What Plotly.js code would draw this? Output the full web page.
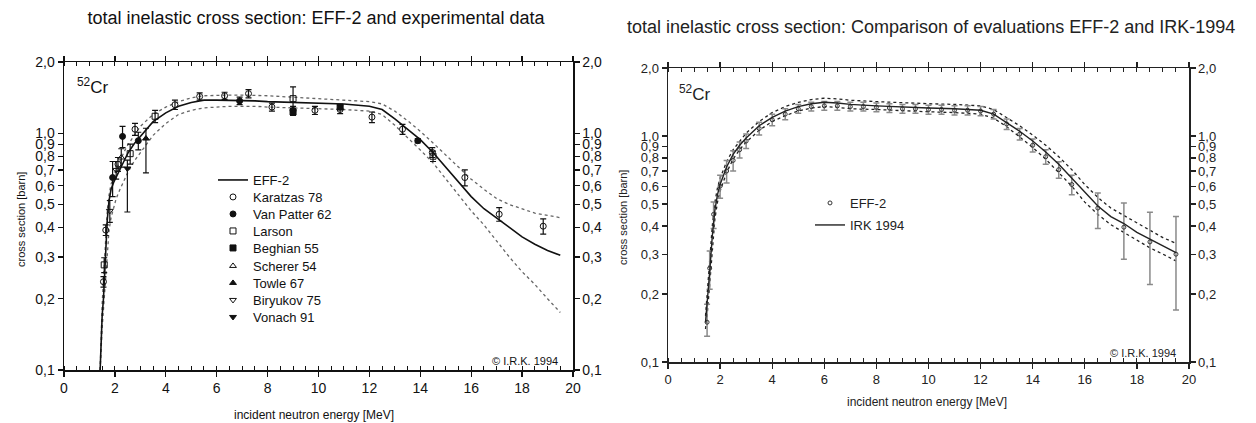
<!DOCTYPE html>
<html><head><meta charset="utf-8">
<script src="https://cdn.plot.ly/plotly-3.0.1.min.js"></script>
<style>html,body{margin:0;padding:0;background:#fff}#chart{width:1256px;height:423px}</style>
</head><body><div id="chart"></div>
<script>
// ---------- tick labels ----------
const yTickVals = [0.1, 0.2, 0.3, 0.4, 0.5, 0.6, 0.7, 0.8, 0.9, 1.0, 2.0];
const yTickText = ['0,1', '0,2', '0,3', '0,4', '0,5', '0,6', '0,7', '0,8', '0,9', '1,0', '2,0'];
const xTickVals = [0, 2, 4, 6, 8, 10, 12, 14, 16, 18, 20];

// ---------- left chart: EFF-2 evaluation and its band ----------
const effE   = [1.42, 1.46, 1.50, 1.55, 1.60, 1.65, 1.70, 1.77, 1.85, 1.95, 2.05, 2.2, 2.35, 2.5, 2.75, 3.0, 3.5, 4.0, 4.5, 5.0, 5.5, 6.0, 6.5, 7.0, 7.5, 8.0, 9.0, 10.0, 11.0, 12.0, 12.5, 13.0, 13.5, 14.0, 14.5, 15.0, 15.5, 16.0, 16.5, 17.0, 17.5, 18.0, 18.5, 19.0, 19.5];
const effS   = [0.10, 0.14, 0.17, 0.20, 0.27, 0.35, 0.43, 0.52, 0.58, 0.62, 0.65, 0.70, 0.76, 0.82, 0.90, 0.97, 1.12, 1.22, 1.30, 1.35, 1.38, 1.38, 1.38, 1.37, 1.37, 1.36, 1.35, 1.34, 1.33, 1.30, 1.26, 1.15, 1.04, 0.94, 0.83, 0.72, 0.62, 0.54, 0.48, 0.44, 0.40, 0.365, 0.34, 0.32, 0.305];
const effHiS = [0.10, 0.15, 0.19, 0.24, 0.31, 0.39, 0.47, 0.55, 0.61, 0.66, 0.70, 0.76, 0.83, 0.89, 0.98, 1.07, 1.20, 1.29, 1.36, 1.41, 1.44, 1.45, 1.45, 1.45, 1.45, 1.44, 1.42, 1.40, 1.38, 1.36, 1.33, 1.24, 1.13, 1.02, 0.91, 0.81, 0.72, 0.64, 0.58, 0.53, 0.50, 0.48, 0.46, 0.45, 0.44];
const effLoS = [0.10, 0.13, 0.15, 0.18, 0.22, 0.27, 0.33, 0.39, 0.44, 0.49, 0.53, 0.58, 0.63, 0.68, 0.76, 0.83, 0.98, 1.10, 1.20, 1.25, 1.28, 1.29, 1.30, 1.30, 1.30, 1.29, 1.28, 1.27, 1.26, 1.24, 1.20, 1.08, 0.96, 0.85, 0.75, 0.64, 0.55, 0.47, 0.41, 0.35, 0.30, 0.26, 0.23, 0.20, 0.175];

// ---------- left chart: experimental data ----------
const karE   = [1.55, 1.64, 2.12, 2.79, 4.36, 5.33, 6.31, 7.25, 8.17, 9.0, 9.86, 10.85, 12.1, 13.3, 14.47, 15.75, 17.1, 18.83];
const karS   = [0.236, 0.39, 0.74, 1.04, 1.32, 1.43, 1.44, 1.47, 1.29, 1.25, 1.25, 1.26, 1.17, 1.04, 0.83, 0.65, 0.455, 0.405];
const karErr = [0.012, 0.02, 0.05, 0.06, 0.06, 0.05, 0.05, 0.06, 0.05, 0.05, 0.05, 0.05, 0.06, 0.05, 0.04, 0.05, 0.03, 0.03];

const vpE    = [1.91, 2.30, 2.92, 6.90, 13.9];
const vpS    = [0.65, 0.97, 0.93, 1.37, 0.93];
const vpErr  = [0.11, 0.10, 0.08, 0.05, 0.02];

const larE   = [1.58, 2.60, 3.58, 9.0, 14.5];
const larS   = [0.278, 0.82, 1.18, 1.40, 0.80];
const larErr = [0.02, 0.08, 0.07, 0.17, 0.04];

const begE   = [9.0, 10.85];
const begS   = [1.23, 1.29];
const begErr = [0.04, 0.03];

const schE   = [2.25];
const schS   = [0.79];
const schErr = [0.07];

const towE   = [3.22];
const towS   = [0.95];
const towUp  = [0.10];
const towDn  = [0.27];

const biryE   = [1.80, 2.05];
const biryS   = [0.47, 0.70];
const biryErr = [0.05, 0.06];

const vonE   = [2.49];
const vonS   = [0.71];
const vonUp  = [0.06];
const vonDn  = [0.245];

// ---------- right chart: IRK-1994 evaluation and its band ----------
const irkE   = [1.44, 1.50, 1.60, 1.70, 1.80, 1.90, 2.0, 2.25, 2.5, 2.75, 3.0, 3.5, 4.0, 4.5, 5.0, 5.5, 6.0, 6.5, 7.0, 8.0, 9.0, 10.0, 11.0, 12.0, 12.5, 13.0, 13.5, 14.0, 14.5, 15.0, 15.5, 16.0, 16.5, 17.0, 17.5, 18.0, 18.5, 19.0, 19.5];
const irkS   = [0.15, 0.18, 0.25, 0.36, 0.47, 0.55, 0.61, 0.73, 0.83, 0.91, 0.98, 1.11, 1.21, 1.29, 1.35, 1.39, 1.41, 1.40, 1.38, 1.36, 1.34, 1.33, 1.32, 1.30, 1.25, 1.15, 1.05, 0.95, 0.85, 0.75, 0.65, 0.56, 0.49, 0.44, 0.41, 0.375, 0.35, 0.325, 0.305];
const irkHiS = [0.16, 0.20, 0.28, 0.40, 0.51, 0.59, 0.65, 0.77, 0.87, 0.95, 1.03, 1.16, 1.27, 1.35, 1.41, 1.45, 1.47, 1.46, 1.44, 1.42, 1.40, 1.39, 1.38, 1.36, 1.31, 1.21, 1.11, 1.01, 0.91, 0.81, 0.71, 0.61, 0.535, 0.48, 0.445, 0.41, 0.38, 0.355, 0.335];
const irkLoS = [0.14, 0.16, 0.22, 0.32, 0.43, 0.51, 0.57, 0.69, 0.79, 0.87, 0.94, 1.06, 1.16, 1.23, 1.29, 1.33, 1.35, 1.34, 1.32, 1.31, 1.29, 1.28, 1.27, 1.25, 1.20, 1.10, 0.99, 0.89, 0.79, 0.69, 0.60, 0.51, 0.45, 0.405, 0.375, 0.345, 0.32, 0.30, 0.28];

// ---------- right chart: EFF-2 points with uncertainties ----------
const effPtE  = [1.5, 1.6, 1.75, 2.0, 2.25, 2.5, 2.75, 3.0, 3.5, 4.0, 4.5, 5.0, 5.5, 6.0, 6.5, 7.0, 7.5, 8.0, 8.5, 9.0, 9.5, 10.0, 10.5, 11.0, 11.5, 12.0, 12.5, 13.0, 13.5, 14.0, 14.5, 15.0, 15.5, 16.5, 17.5, 18.5, 19.5];
const effPtS  = [0.15, 0.26, 0.45, 0.60, 0.70, 0.78, 0.87, 0.95, 1.08, 1.18, 1.25, 1.32, 1.35, 1.36, 1.36, 1.35, 1.35, 1.34, 1.33, 1.32, 1.32, 1.31, 1.31, 1.30, 1.30, 1.29, 1.25, 1.13, 1.02, 0.91, 0.81, 0.71, 0.61, 0.48, 0.395, 0.34, 0.30];
const effPtUp = [0.03, 0.05, 0.06, 0.07, 0.08, 0.08, 0.07, 0.07, 0.07, 0.07, 0.07, 0.06, 0.06, 0.06, 0.06, 0.06, 0.06, 0.06, 0.06, 0.06, 0.06, 0.06, 0.06, 0.06, 0.06, 0.06, 0.06, 0.06, 0.06, 0.06, 0.06, 0.06, 0.06, 0.08, 0.11, 0.12, 0.14];
const effPtDn = [0.02, 0.05, 0.06, 0.07, 0.08, 0.08, 0.07, 0.07, 0.07, 0.07, 0.07, 0.06, 0.06, 0.06, 0.06, 0.06, 0.06, 0.06, 0.06, 0.06, 0.06, 0.06, 0.06, 0.06, 0.06, 0.06, 0.06, 0.06, 0.06, 0.06, 0.06, 0.06, 0.06, 0.09, 0.11, 0.12, 0.13];

// ---------- layout helpers ----------
const W = 1256, H = 423;
const fx = x => x / W, fy = y => 1 - y / H;
const FONT = '"Liberation Sans", Arial, sans-serif';
const INK = '#111';

function errBars(up, dn, color, th) {
  const e = {type: 'data', array: up, visible: true, color: color, thickness: th, width: 3};
  if (dn) { e.symmetric = false; e.arrayminus = dn; }
  return e;
}
function expTrace(name, xs, ys, symbol, legend, up, dn) {
  return {x: xs, y: ys, name: name, type: 'scatter', mode: 'markers',
    xaxis: 'x', yaxis: 'y', legend: legend,
    marker: {symbol: symbol, size: 6, color: INK, line: {color: INK, width: 1}},
    error_y: errBars(up, dn, INK, 1.2)};
}

const traces = [
  {x: effE, y: effHiS, mode: 'lines', xaxis: 'x', yaxis: 'y', showlegend: false, hoverinfo: 'skip',
   line: {color: '#666', width: 1.3, dash: 'dot'}},
  {x: effE, y: effLoS, mode: 'lines', xaxis: 'x', yaxis: 'y', showlegend: false, hoverinfo: 'skip',
   line: {color: '#666', width: 1.3, dash: 'dot'}},
  {x: effE, y: effS, name: 'EFF-2', mode: 'lines', xaxis: 'x', yaxis: 'y', legend: 'legend',
   line: {color: INK, width: 1.6}},
  expTrace('Karatzas 78', karE, karS, 'circle-open', 'legend2', karErr),
  expTrace('Van Patter 62', vpE, vpS, 'circle', 'legend3', vpErr),
  expTrace('Larson', larE, larS, 'square-open', 'legend4', larErr),
  expTrace('Beghian 55', begE, begS, 'square', 'legend5', begErr),
  expTrace('Scherer 54', schE, schS, 'triangle-up-open', 'legend6', schErr),
  expTrace('Towle 67', towE, towS, 'triangle-up', 'legend7', towUp, towDn),
  expTrace('Biryukov 75', biryE, biryS, 'triangle-down-open', 'legend8', biryErr),
  expTrace('Vonach 91', vonE, vonS, 'triangle-down', 'legend9', vonUp, vonDn),
  // invisible carrier so the right-hand label axis of the left chart is drawn
  {x: effE, y: effS, mode: 'lines', xaxis: 'x', yaxis: 'y2', showlegend: false, hoverinfo: 'skip',
   opacity: 0, line: {width: 0}},

  // right chart
  {x: irkE, y: irkHiS, mode: 'lines', xaxis: 'x2', yaxis: 'y3', showlegend: false, hoverinfo: 'skip',
   line: {color: '#222', width: 1.3, dash: 'dot'}},
  {x: irkE, y: irkLoS, mode: 'lines', xaxis: 'x2', yaxis: 'y3', showlegend: false, hoverinfo: 'skip',
   line: {color: '#222', width: 1.3, dash: 'dot'}},
  {x: effPtE, y: effPtS, name: 'EFF-2', mode: 'markers', xaxis: 'x2', yaxis: 'y3', legend: 'legend10',
   marker: {symbol: 'circle-open', size: 4, color: '#333', line: {color: '#333', width: 1}},
   error_y: errBars(effPtUp, effPtDn, '#8a8a8a', 1.5)},
  {x: irkE, y: irkS, name: 'IRK 1994', mode: 'lines', xaxis: 'x2', yaxis: 'y3', legend: 'legend11',
   line: {color: '#222', width: 1.4}},
  {x: irkE, y: irkS, mode: 'lines', xaxis: 'x2', yaxis: 'y4', showlegend: false, hoverinfo: 'skip',
   opacity: 0, line: {width: 0}}
];

function xAxis(domain, anchor, size, color) {
  return {domain: domain, anchor: anchor, range: [0, 20], tickvals: xTickVals,
    ticks: 'outside', ticklen: 5, tickwidth: 1.2, tickcolor: color,
    showline: true, linecolor: color, linewidth: 1.5, mirror: 'ticks',
    minor: {dtick: 0.5, tick0: 0, ticks: 'inside', ticklen: 4, tickwidth: 1, tickcolor: color},
    showgrid: false, zeroline: false, fixedrange: true,
    tickfont: {family: FONT, size: size, color: color}};
}
function yAxis(domain, anchor, side, overlay, size, color) {
  const a = {type: 'log', range: [-1, Math.log10(2)], tickvals: yTickVals, ticktext: yTickText,
    ticks: 'outside', ticklen: 5, tickwidth: 1.2, tickcolor: color,
    showline: true, linecolor: color, linewidth: 1.5, showgrid: false, zeroline: false,
    anchor: anchor, side: side, fixedrange: true,
    tickfont: {family: FONT, size: size, color: color}};
  if (overlay) a.overlaying = overlay; else a.domain = domain;
  return a;
}

const leftX = [fx(64), fx(573)], leftY = [fy(370), fy(62)];
const rightX = [fx(668), fx(1189)], rightY = [fy(362), fy(68)];

function leg(xpx, ypx, size, color) {
  return {x: fx(xpx), xanchor: 'left', y: fy(ypx), yanchor: 'middle',
    bgcolor: 'rgba(0,0,0,0)', borderwidth: 0, itemwidth: 30,
    font: {family: FONT, size: size, color: color}};
}

const layout = {
  width: W, height: H,
  margin: {l: 0, r: 0, t: 0, b: 0, pad: 0},
  paper_bgcolor: '#fff', plot_bgcolor: '#fff',
  font: {family: FONT, color: INK},
  title: {text: 'total inelastic cross section: EFF-2 and experimental data',
    x: fx(316), xanchor: 'center', xref: 'paper', y: fy(18), yanchor: 'middle', yref: 'paper',
    font: {family: FONT, size: 18, color: INK}},
  xaxis: xAxis(leftX, 'y', 14, INK),
  yaxis: yAxis(leftY, 'x', 'left', null, 14, INK),
  yaxis2: yAxis(leftY, 'x', 'right', 'y', 14, INK),
  xaxis2: xAxis(rightX, 'y3', 13, '#222'),
  yaxis3: yAxis(rightY, 'x2', 'left', null, 13, '#222'),
  yaxis4: yAxis(rightY, 'x2', 'right', 'y3', 13, '#222'),
  legend:   leg(213, 180, 13, INK),
  legend2:  leg(213, 197, 13, INK),
  legend3:  leg(213, 214, 13, INK),
  legend4:  leg(213, 231, 13, INK),
  legend5:  leg(213, 248, 13, INK),
  legend6:  leg(213, 266, 13, INK),
  legend7:  leg(213, 283, 13, INK),
  legend8:  leg(213, 300, 13, INK),
  legend9:  leg(213, 317, 13, INK),
  legend10: leg(810, 203, 13, '#222'),
  legend11: leg(810, 225, 13, '#222'),
  annotations: [
    {text: 'total inelastic cross section: Comparison of evaluations EFF-2 and IRK-1994',
     xref: 'paper', yref: 'paper', x: fx(931), y: fy(27), xanchor: 'center', yanchor: 'middle',
     showarrow: false, font: {family: FONT, size: 18, color: '#222'}},
    {text: '<sup>52</sup>Cr', xref: 'paper', yref: 'paper', x: fx(75), y: fy(86),
     xanchor: 'left', yanchor: 'middle', showarrow: false, font: {family: FONT, size: 17, color: INK}},
    {text: '<sup>52</sup>Cr', xref: 'paper', yref: 'paper', x: fx(677), y: fy(93),
     xanchor: 'left', yanchor: 'middle', showarrow: false, font: {family: FONT, size: 17, color: '#222'}},
    {text: '© I.R.K. 1994', xref: 'paper', yref: 'paper', x: fx(560), y: fy(361),
     xanchor: 'right', yanchor: 'middle', showarrow: false, font: {family: FONT, size: 11, color: INK}},
    {text: '© I.R.K. 1994', xref: 'paper', yref: 'paper', x: fx(1178), y: fy(353),
     xanchor: 'right', yanchor: 'middle', showarrow: false, font: {family: FONT, size: 11, color: '#222'}},
    {text: 'cross section [barn]', xref: 'paper', yref: 'paper', x: fx(21), y: fy(220),
     xanchor: 'center', yanchor: 'middle', textangle: -90, showarrow: false,
     font: {family: FONT, size: 11, color: INK}},
    {text: 'cross section [barn]', xref: 'paper', yref: 'paper', x: fx(623), y: fy(218),
     xanchor: 'center', yanchor: 'middle', textangle: -90, showarrow: false,
     font: {family: FONT, size: 11, color: '#222'}},
    {text: 'incident neutron energy [MeV]', xref: 'paper', yref: 'paper', x: fx(314), y: fy(415),
     xanchor: 'center', yanchor: 'middle', showarrow: false, font: {family: FONT, size: 12, color: INK}},
    {text: 'incident neutron energy [MeV]', xref: 'paper', yref: 'paper', x: fx(927), y: fy(402),
     xanchor: 'center', yanchor: 'middle', showarrow: false, font: {family: FONT, size: 12, color: '#222'}}
  ]
};

Plotly.newPlot('chart', traces, layout, {displayModeBar: false, staticPlot: true});
</script>
</body></html>
